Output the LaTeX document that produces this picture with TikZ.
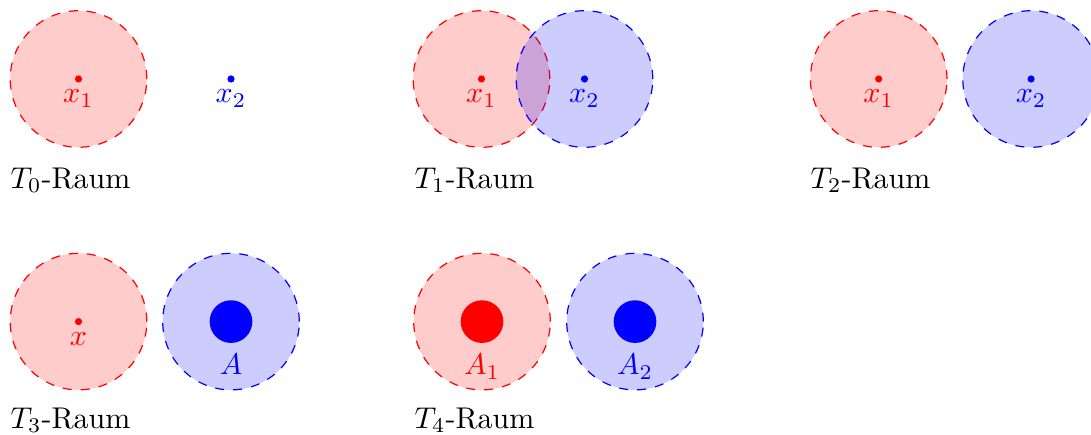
\documentclass[tikz,border=0pt]{standalone}
\begin{document}
\begin{tikzpicture}[
  nbhd/.style={circle, inner sep=0pt, minimum size=1.6cm, dashed, fill opacity=0.2, text opacity=1},
  rednb/.style={nbhd, draw=red, fill=red},
  bluenb/.style={nbhd, draw=blue, fill=blue},
  dotnode/.style={circle, inner sep=0pt, minimum size=2.4pt, fill=#1},
  bigdot/.style={circle, inner sep=0pt, minimum size=0.5cm, fill=#1},
  lbl/.style={below, text=#1},
  spacename/.style={anchor=base west, inner sep=0pt}
]
\useasboundingbox (0,0) rectangle (363.67pt,-144.67pt);
% T0
\node[rednb] (a1) at (26.17pt,-26.33pt) {};
\node[dotnode=red] (ax1) at (a1.center) {};
\node[lbl=red] (ax1l) at (ax1.center) {$x_1$};
\node[dotnode=blue] (ax2) at (77pt,-26.33pt) {};
\node[lbl=blue] (ax2l) at (ax2.center) {$x_2$};
\node[spacename] (ac) at (3.33pt,-62.67pt) {$T_0$-Raum};
% T1
\node[rednb] (b1) at (160.5pt,-26.33pt) {};
\node[bluenb] (b2) at (194.83pt,-26.33pt) {};
\node[dotnode=red] (bx1) at (b1.center) {};
\node[lbl=red] (bx1l) at (bx1.center) {$x_1$};
\node[dotnode=blue] (bx2) at (b2.center) {};
\node[lbl=blue] (bx2l) at (bx2.center) {$x_2$};
\node[spacename] (bc) at (138pt,-62.67pt) {$T_1$-Raum};
% T2
\node[rednb] (c1) at (292.9pt,-26.33pt) {};
\node[bluenb] (c2) at (343.7pt,-26.33pt) {};
\node[dotnode=red] (cx1) at (c1.center) {};
\node[lbl=red] (cx1l) at (cx1.center) {$x_1$};
\node[dotnode=blue] (cx2) at (c2.center) {};
\node[lbl=blue] (cx2l) at (cx2.center) {$x_2$};
\node[spacename] (cc) at (270pt,-62.67pt) {$T_2$-Raum};
% T3
\node[rednb] (d1) at (26.17pt,-107.2pt) {};
\node[bluenb] (d2) at (77pt,-107.2pt) {};
\node[dotnode=red] (dx) at (d1.center) {};
\node[lbl=red] (dxl) at (dx.center) {$x$};
\node[bigdot=blue] (dA) at (d2.center) {};
\node[lbl=blue] (dAl) at (dA.south) {$A$};
\node[spacename] (dc) at (3.33pt,-142.67pt) {$T_3$-Raum};
% T4
\node[rednb] (e1) at (160.67pt,-107.2pt) {};
\node[bluenb] (e2) at (211.67pt,-107.2pt) {};
\node[bigdot=red] (eA1) at (e1.center) {};
\node[lbl=red] (eA1l) at (eA1.south) {$A_1$};
\node[bigdot=blue] (eA2) at (e2.center) {};
\node[lbl=blue] (eA2l) at (eA2.south) {$A_2$};
\node[spacename] (ec) at (138pt,-142.67pt) {$T_4$-Raum};
\end{tikzpicture}
\end{document}
